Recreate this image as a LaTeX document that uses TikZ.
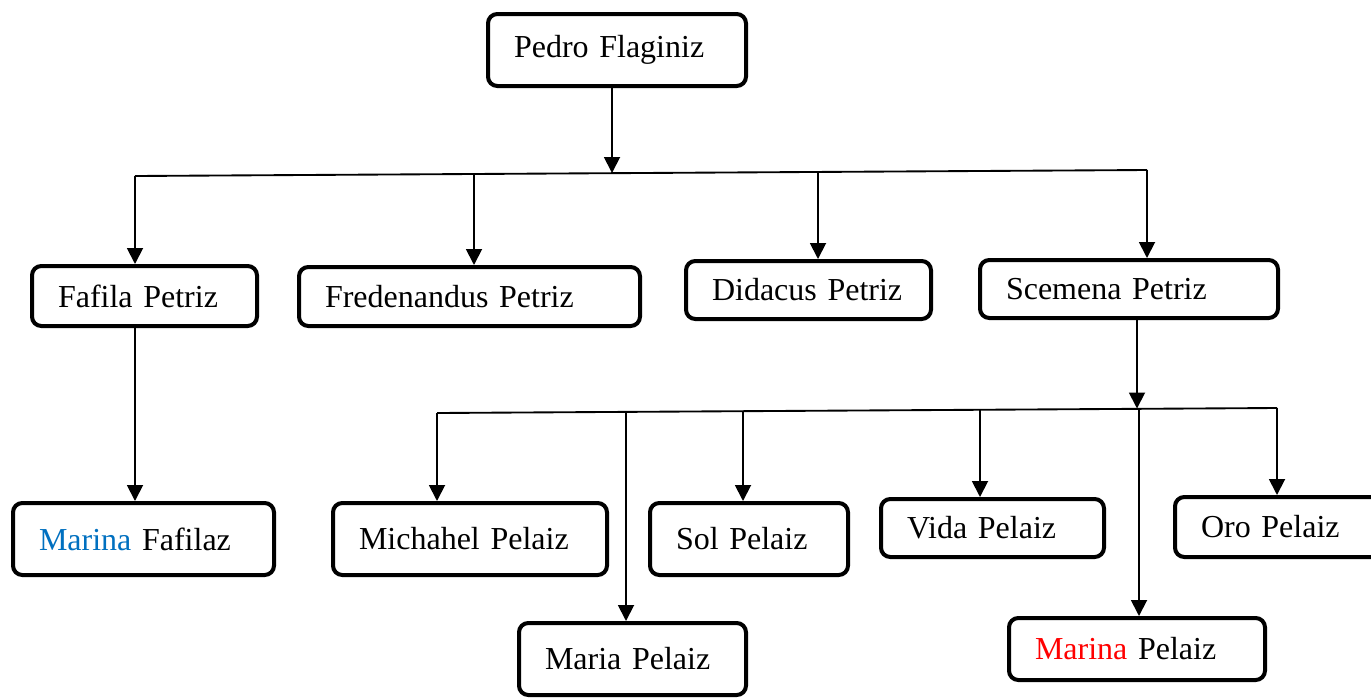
\documentclass[tikz,border=0pt]{standalone}
\usepackage{fontspec}
\setmainfont{Liberation Serif}
\usetikzlibrary{arrows.meta, positioning, calc}
\definecolor{wordblue}{RGB}{0,112,192}

\begin{document}
\begin{tikzpicture}[
    x=0.75pt, y=-0.75pt,
    >={Triangle[length=12pt, width=12pt]},
    person/.style={draw, rounded corners=7pt, line width=3pt, fill=white, align=left,
        inner xsep=19.5pt, inner ysep=0pt, font=\fontsize{24}{28}\selectfont},
    link/.style={->, line width=1.4pt},
    bus/.style={-, line width=1.4pt}
]

% -------------------------------------------------------------------------
% Page frame (pixel grid of the reference)
% -------------------------------------------------------------------------
\useasboundingbox (0,0) rectangle (1371,697);
\clip (0,0) rectangle (1371,697);

% Top
\node[person, minimum width=193.5pt, minimum height=54pt, text width=154.5pt] (pedro) at (617,50) {Pedro Flaginiz};

% Children row (y = 290)
\node[person, minimum width=168.75pt, minimum height=45pt, text width=129.75pt] (fafila) at (144.5,296) {Fafila Petriz};
\node[person, minimum width=255.75pt, minimum height=44.25pt, text width=216.75pt] (fredenandus) at (469.5,296.5) {Fredenandus Petriz};
\node[person, minimum width=183.75pt, minimum height=43.5pt, text width=144.75pt] (didacus) at (808.5,290) {Didacus Petriz};
\node[person, minimum width=223.5pt, minimum height=43.5pt, text width=184.5pt] (scemena) at (1129,289) {Scemena Petriz};

% Grandchildren row (y = 530)
\node[person, minimum width=195.75pt, minimum height=54pt, text width=156.75pt] (marinaF) at (143.5,539) {\textcolor{wordblue}{Marina} Fafilaz};
\node[person, minimum width=205.5pt, minimum height=54pt, text width=166.5pt] (michahel) at (470,539) {Michahel Pelaiz};
\node[person, minimum width=148.5pt, minimum height=54pt, text width=109.5pt] (sol) at (749,539) {Sol Pelaiz};
\node[person, minimum width=167.25pt, minimum height=43.5pt, text width=128.25pt] (vida) at (992.5,528) {Vida Pelaiz};
\node[person, minimum width=157.5pt, minimum height=45pt, text width=118.5pt] (oro) at (1280,527) {Oro Pelaiz};

% Bottom row
\node[person, minimum width=170.25pt, minimum height=54pt, text width=131.25pt] (maria) at (632.5,659) {Maria Pelaiz};
\node[person, minimum width=192pt, minimum height=46.5pt, text width=153pt] (marinaP) at (1137,649) {\textcolor{red}{Marina} Pelaiz};

% -------------------------------------------------------------------------
% Upper bus (children of Pedro)
% -------------------------------------------------------------------------
\coordinate (b1fafila) at (135,176);
\coordinate (b1fred) at (474,174.5);
\coordinate (b1mid) at (612,173);
\coordinate (b1didacus) at (818,171.5);
\coordinate (b1scemena) at (1147,170);

\draw[link] (pedro.south -| b1mid) -- (b1mid);
\draw[bus] (b1fafila) -- (b1scemena);
\draw[link] (b1fafila) -- (b1fafila |- fafila.north);
\draw[link] (b1fred) -- (b1fred |- fredenandus.north);
\draw[link] (b1didacus) -- (b1didacus |- didacus.north);
\draw[link] (b1scemena) -- (b1scemena |- scemena.north);

% Fafila straight down to his daughter
\draw[link] (fafila.south -| b1fafila) -- (b1fafila |- marinaF.north);

% -------------------------------------------------------------------------
% Lower bus (children of Scemena)
% -------------------------------------------------------------------------
\coordinate (b2michahel) at (437,413);
\coordinate (b2maria) at (626,412);
\coordinate (b2sol) at (743,411.5);
\coordinate (b2vida) at (980,409.5);
\coordinate (b2top) at (1137,408.5);
\coordinate (b2marina) at (1139,408.5);
\coordinate (b2oro) at (1277,408);

\draw[link] (scemena.south -| b2top) -- (b2top);
\draw[bus] (b2michahel) -- (b2oro);
\draw[link] (b2michahel) -- (b2michahel |- michahel.north);
\draw[link] (b2maria) -- (b2maria |- maria.north);
\draw[link] (b2sol) -- (b2sol |- sol.north);
\draw[link] (b2vida) -- (b2vida |- vida.north);
\draw[link] (b2marina) -- (b2marina |- marinaP.north);
\draw[link] (b2oro) -- (b2oro |- oro.north);

\end{tikzpicture}
\end{document}
